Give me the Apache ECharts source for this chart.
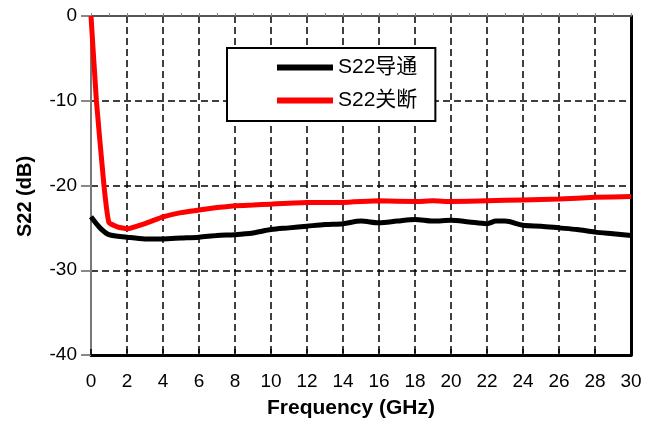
<!DOCTYPE html>
<html><head><meta charset="utf-8">
<script src="https://cdn.jsdelivr.net/npm/echarts@6/dist/echarts.min.js"></script>
<style>html,body{margin:0;padding:0;background:#fff}#c{width:658px;height:425px}</style>
</head><body><div id="c"></div>
<script>
const freqOn = [0,0.5,1,2,3,4,5,6,7,8,9,10,11,12,13,14,15,16,17,18,19,20,21,22,22.5,23,24,25,26,27,28,29,30];
const s22On  = [-23.7,-25.0,-25.8,-26.1,-26.3,-26.3,-26.2,-26.1,-25.9,-25.8,-25.6,-25.2,-25.0,-24.8,-24.6,-24.5,-24.2,-24.4,-24.2,-24.0,-24.2,-24.1,-24.3,-24.5,-24.2,-24.2,-24.7,-24.8,-25.0,-25.2,-25.5,-25.7,-25.9];
const freqOff = [0,0.3,0.72,1.0,1.5,2,3,4,5,6,7,8,9,10,12,14,16,18,19,20,22,24,26,28,30];
const s22Off  = [0,-10,-20,-24.4,-24.9,-25.1,-24.5,-23.7,-23.2,-22.9,-22.6,-22.4,-22.3,-22.2,-22.0,-22.0,-21.8,-21.9,-21.8,-21.9,-21.8,-21.7,-21.6,-21.4,-21.3];
const seriesNames = ['S22导通','S22关断'];
const xTitle = 'Frequency (GHz)';
const yTitle = 'S22 (dB)';

const FONT = "'Liberation Sans', Arial, 'Noto Sans CJK SC', sans-serif";
const zip = (xs, ys) => xs.map((x, i) => [x, ys[i]]);
const chart = echarts.init(document.getElementById('c'), null, {renderer: 'canvas'});
chart.setOption({
  animation: false,
  backgroundColor: '#fff',
  grid: {left: 91, right: 27, top: 16, bottom: 70, containLabel: false},
  legend: {
    orient: 'vertical', left: 227, top: 48,
    backgroundColor: '#fff', borderColor: '#000', borderWidth: 2,
    padding: [9, 18, 10, 50], itemGap: 12,
    itemWidth: 56, itemHeight: 6, icon: 'rect',
    textStyle: {fontFamily: FONT, fontSize: 21, color: '#000'},
    data: seriesNames
  },
  xAxis: [{
    type: 'value', min: 0, max: 30, interval: 2, position: 'bottom',
    name: xTitle, nameLocation: 'middle', nameGap: 43,
    nameTextStyle: {fontFamily: FONT, fontSize: 21, fontWeight: 'bold', color: '#000', padding: [0, 20, 0, 0]},
    axisLine: {show: true, onZero: false, lineStyle: {color: '#000', width: 3}},
    axisTick: {show: true, inside: true, length: 6, lineStyle: {color: '#000', width: 1.5}},
    axisLabel: {margin: 17, fontFamily: FONT, fontSize: 19, color: '#000'},
    splitLine: {show: true, lineStyle: {color: '#000', width: 1.5, type: [7, 4]}}
  }, {
    type: 'value', min: 0, max: 30, interval: 1, position: 'top',
    axisLine: {show: true, onZero: false, lineStyle: {color: '#555', width: 2}},
    axisTick: {show: true, inside: false, length: 3, lineStyle: {color: '#888', width: 1}},
    axisLabel: {show: false}, splitLine: {show: false}
  }],
  yAxis: [{
    type: 'value', min: -40, max: 0, interval: 10, position: 'left',
    name: yTitle, nameLocation: 'middle', nameGap: 56, nameRotate: 90,
    nameTextStyle: {fontFamily: FONT, fontSize: 20, fontWeight: 'bold', color: '#000', padding: [0, 22, 0, 0]},
    axisLine: {show: true, onZero: false, lineStyle: {color: '#777', width: 2}},
    axisTick: {show: true, inside: false, length: 10, lineStyle: {color: '#888', width: 2}},
    axisLabel: {margin: 14, fontFamily: FONT, fontSize: 19, color: '#000'},
    splitLine: {show: true, lineStyle: {color: '#000', width: 1.5, type: [7, 4]}}
  }, {
    type: 'value', min: -40, max: 0, interval: 10, position: 'right',
    axisLine: {show: true, onZero: false, lineStyle: {color: '#000', width: 3}},
    axisTick: {show: false}, axisLabel: {show: false}, splitLine: {show: false}
  }],
  series: [{
    name: seriesNames[0], type: 'line', showSymbol: false, symbol: 'none', smooth: 0.3,
    data: zip(freqOn, s22On), z: 3,
    lineStyle: {color: '#000', width: 5}, itemStyle: {color: '#000'}
  }, {
    name: seriesNames[1], type: 'line', showSymbol: false, symbol: 'none', smooth: 0.1,
    data: zip(freqOff, s22Off), z: 4,
    lineStyle: {color: '#ff0000', width: 5}, itemStyle: {color: '#ff0000'}
  }]
});
</script></body></html>
